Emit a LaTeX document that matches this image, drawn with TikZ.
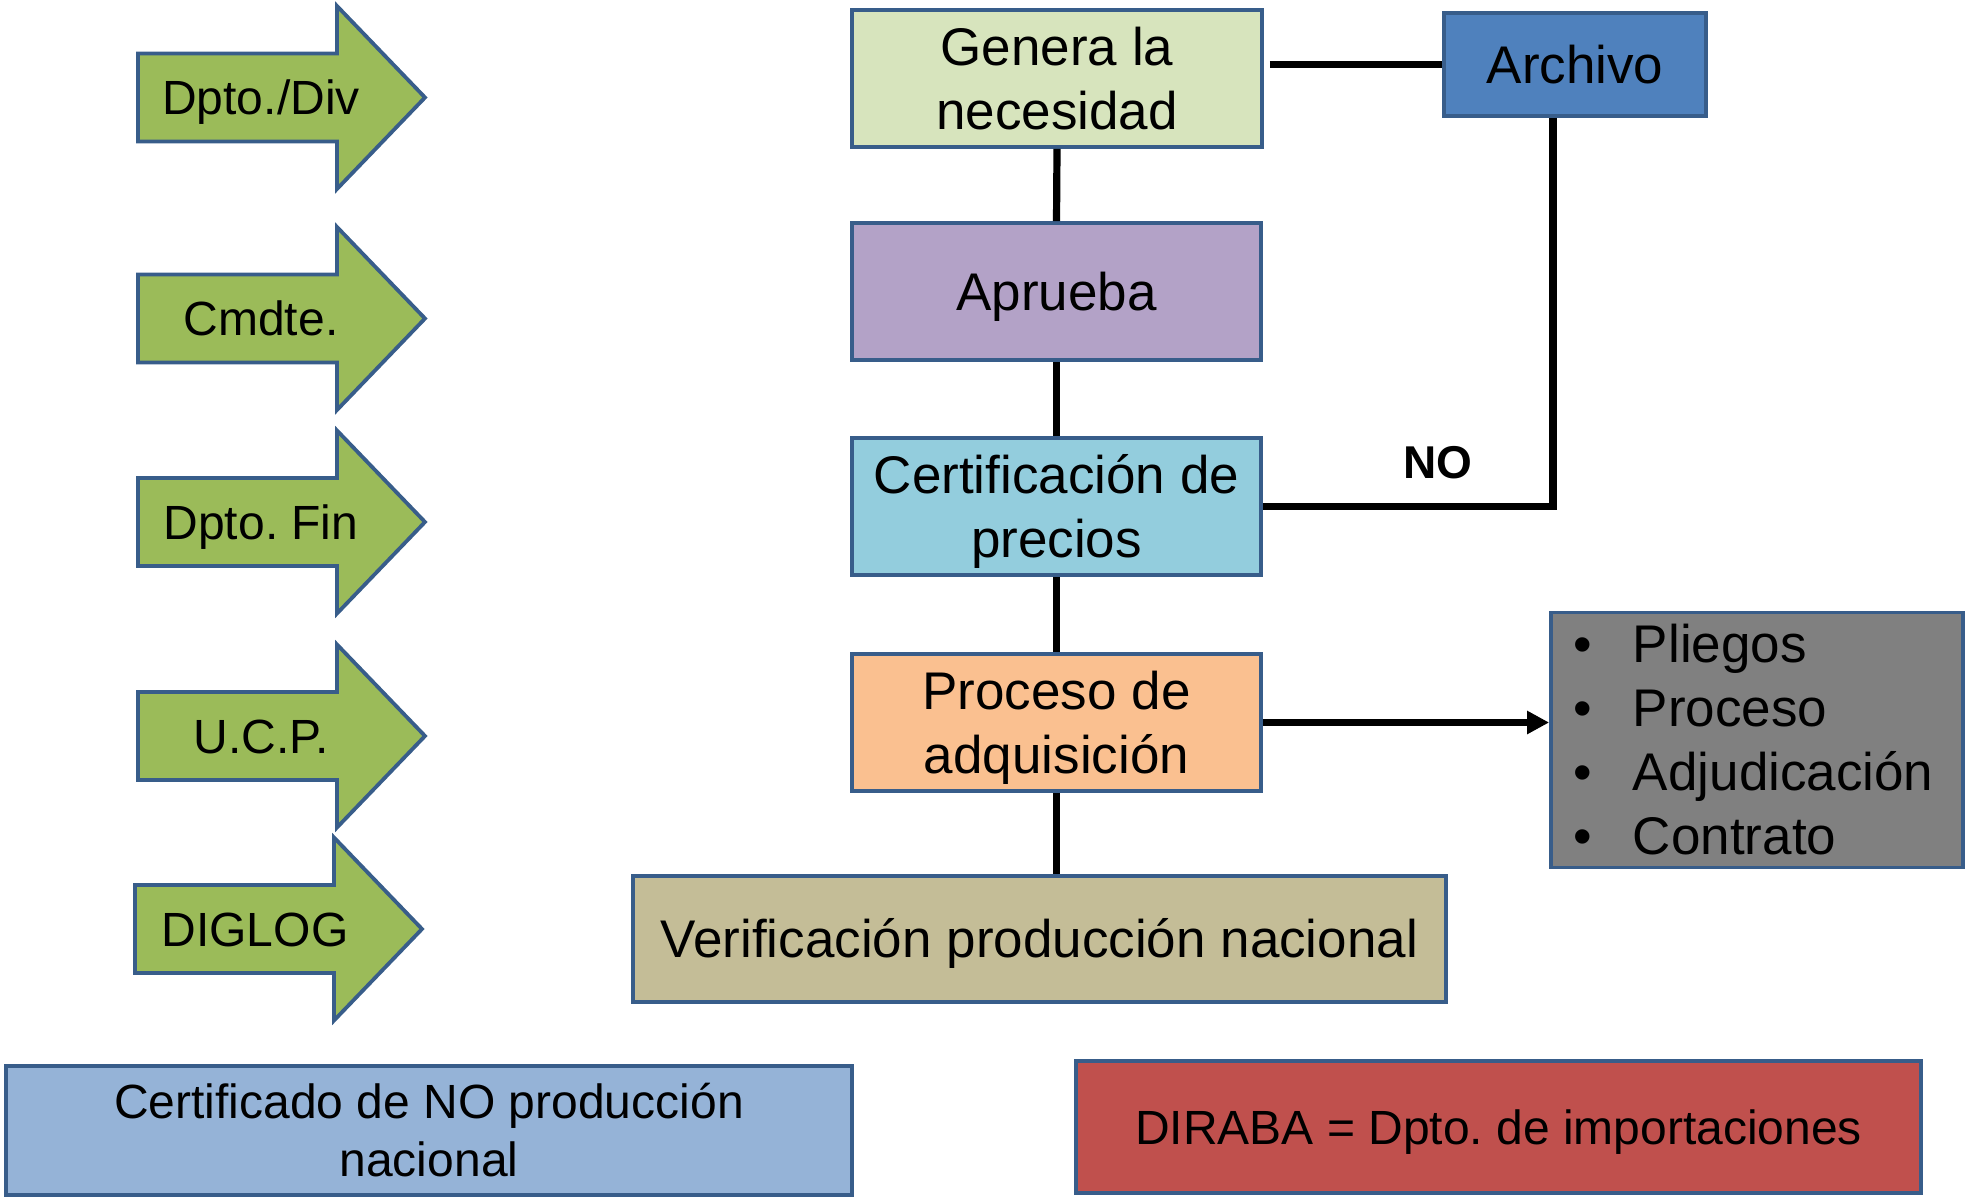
\documentclass[tikz,border=0pt]{standalone}
\usepackage{fontspec}
\setmainfont{Liberation Sans}
\frenchspacing
\usetikzlibrary{arrows.meta}
\definecolor{bordc}{HTML}{385D8A}
\definecolor{cgen}{HTML}{D7E4BD}
\definecolor{carch}{HTML}{4F81BD}
\definecolor{capr}{HTML}{B3A2C7}
\definecolor{ccert}{HTML}{93CDDD}
\definecolor{cproc}{HTML}{FAC090}
\definecolor{cver}{HTML}{C4BD97}
\definecolor{clist}{HTML}{808080}
\definecolor{ccnp}{HTML}{95B3D7}
\definecolor{cdir}{HTML}{C0504D}
\definecolor{agreen}{HTML}{9BBB59}
\newcommand{\sst}{\rule[-0.24em]{0pt}{1.19em}}
\newcommand{\garrow}[5]{%
  \draw[garrowsty] (#2,{#3-44}) -- ({#2+199},{#3-44}) -- ({#2+199},{#3-91.5}) -- ({#2+287},#3) -- ({#2+199},{#3+91.5}) -- ({#2+199},{#3+44}) -- (#2,{#3+44}) -- cycle;
  \node[alabel] (#1) at (#5,#3) {\sst #4};}
\begin{document}
\begin{tikzpicture}[x=0.5pt,y=-0.5pt,
  box/.style={draw=bordc, line width=1.9pt, inner sep=0pt, align=center, text=black,
              font=\fontsize{26.5}{32}\selectfont},
  smallbox/.style={box, font=\fontsize{24}{28.6}\selectfont},
  conn/.style={line width=3.6pt, black},
  garrowsty/.style={draw=bordc, line width=1.9pt, fill=agreen, line join=miter},
  alabel/.style={inner sep=0pt, font=\fontsize{24}{28.6}\selectfont}]
\useasboundingbox (0,0) rectangle (1973,1197);

% green arrows
\garrow{a1}{138}{97.5}{Dpto./Div}{261}
\garrow{a2}{138}{318.5}{Cmdte.}{261}
\garrow{a3}{138}{522}{Dpto. Fin}{261}
\garrow{a4}{138}{736}{U.C.P.}{261}
\garrow{a5}{135}{929}{DIGLOG}{255}

% main boxes
\node[box, fill=cgen, minimum width=205pt, minimum height=68.5pt] (gen) at (1057,78.5) {\sst Genera la\\\sst necesidad};
\node[box, fill=carch, minimum width=131pt, minimum height=51.5pt] (arch) at (1575,64.5) {\sst Archivo};
\node[box, fill=capr, minimum width=204.5pt, minimum height=68.5pt] (apr) at (1056.5,291.5) {\sst Aprueba};
\node[box, fill=ccert, minimum width=204.5pt, minimum height=68.5pt] (cert) at (1056.5,506.5) {\sst Certificación de\\\sst precios};
\node[box, fill=cproc, minimum width=204.5pt, minimum height=68.5pt] (proc) at (1056.5,722.5) {\sst Proceso de\\\sst adquisición};
\node[box, fill=cver, minimum width=406.5pt, minimum height=63pt] (ver) at (1039.5,939) {\sst Verificación producción nacional};
\node[box, fill=clist, minimum width=206pt, minimum height=127pt, inner xsep=11pt,
      text width=184pt, align=left, font=\fontsize{26.5}{32}\selectfont] (list) at (1757,740)
  {\sst\makebox[30pt][l]{•}Pliegos\\\sst\makebox[30pt][l]{•}Proceso\\\sst\makebox[30pt][l]{•}Adjudicación\\\sst\makebox[30pt][l]{•}Contrato};
\node[smallbox, fill=ccnp, minimum width=423pt, minimum height=64.5pt] (cnp) at (429,1130.5) {\sst Certificado de NO producción\\\sst nacional};
\node[smallbox, fill=cdir, minimum width=422.5pt, minimum height=66pt] (dir) at (1498.5,1127) {\sst DIRABA = Dpto. de importaciones};

% connectors
\draw[conn, shorten <=3pt] (arch.west -| gen.east) -- (arch.west);
\draw[conn] (gen.south) -- (apr.north);
\draw[conn] (apr.south) -- (cert.north);
\draw[conn] (cert.south) -- (proc.north);
\draw[conn] (proc.south) -- (proc.south |- ver.north);
\coordinate (archb) at ([xshift=-11pt]arch.south);
\draw[conn] (cert.east) -| (archb);
\node[inner sep=0pt, font=\bfseries\fontsize{23}{28}\selectfont] (no) at (1438,463) {NO};
\draw[conn, -{Triangle[length=11pt,width=11pt]}] (proc.east) -- (proc.east -| list.west);
\end{tikzpicture}
\end{document}
